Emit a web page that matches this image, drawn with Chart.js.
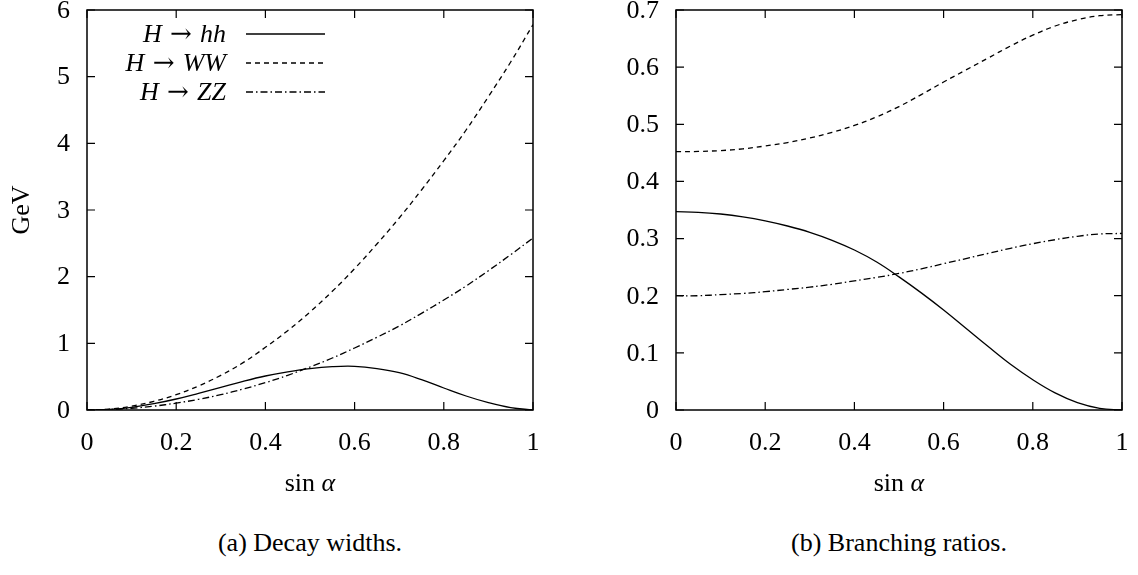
<html>
<head>
<meta charset="utf-8">
<title>Decay widths and branching ratios</title>
<script src="https://cdn.jsdelivr.net/npm/chart.js@4.4.1/dist/chart.umd.min.js"></script>
<style>
body { margin: 0; background: white; }
#page { position: relative; width: 1138px; height: 575px; background: white; }
canvas { position: absolute; top: 0; }
.caption {
  position: absolute; top: 528px; width: 400px; text-align: center;
  font-family: "Liberation Serif", "Times New Roman", Tinos, "DejaVu Serif", serif;
  font-size: 26px; line-height: 30px; color: black;
}
</style>
</head>
<body>
<div id="page">
  <canvas id="widths" width="569" height="500" style="left:0px"></canvas>
  <canvas id="ratios" width="569" height="500" style="left:569px"></canvas>
  <div class="caption" style="left:110px">(a) Decay widths.</div>
  <div class="caption" style="left:699px">(b) Branching ratios.</div>
</div>
<script>
// sin(alpha) grid and values
const sinAlpha = [0, 0.05, 0.1, 0.15, 0.2, 0.25, 0.3, 0.35, 0.4, 0.45, 0.5,
                  0.55, 0.6, 0.65, 0.7, 0.75, 0.8, 0.85, 0.9, 0.95, 1];

// (a) decay widths in GeV
const widthHH = [0, 0.01, 0.04, 0.095, 0.165, 0.25, 0.34, 0.43, 0.51, 0.573, 0.622,
                 0.65, 0.655, 0.622, 0.56, 0.455, 0.33, 0.21, 0.11, 0.035, 0];
const widthWW = [0, 0.014, 0.058, 0.13, 0.23, 0.36, 0.52, 0.71, 0.94, 1.19, 1.47,
                 1.78, 2.12, 2.49, 2.88, 3.3, 3.74, 4.2, 4.7, 5.22, 5.78];
const widthZZ = [0, 0.006, 0.026, 0.058, 0.103, 0.16, 0.23, 0.315, 0.41, 0.52, 0.645,
                 0.78, 0.93, 1.09, 1.26, 1.45, 1.65, 1.86, 2.09, 2.33, 2.58];

// (b) branching ratios
const brHH = [0.347, 0.346, 0.343, 0.338, 0.331, 0.322, 0.311, 0.297, 0.28, 0.259, 0.233,
              0.205, 0.175, 0.143, 0.111, 0.08, 0.053, 0.03, 0.013, 0.003, 0];
const brWW = [0.452, 0.4525, 0.454, 0.457, 0.462, 0.468, 0.476, 0.486, 0.498, 0.513, 0.531,
              0.552, 0.574, 0.595, 0.616, 0.637, 0.656, 0.672, 0.683, 0.69, 0.692];
const brZZ = [0.2, 0.2, 0.202, 0.204, 0.207, 0.211, 0.215, 0.22, 0.226, 0.232, 0.239,
              0.247, 0.256, 0.265, 0.274, 0.283, 0.291, 0.298, 0.304, 0.308, 0.309];

const seriesLabels = ['H → hh', 'H → WW', 'H → ZZ'];
const xTicks = [0, 0.2, 0.4, 0.6, 0.8, 1];

const SERIF = '"Liberation Serif", "Times New Roman", Tinos, "DejaVu Serif", serif';
const ARROW_FONT = '"DejaVu Serif", serif';
const FONT_SIZE = 26;
const DASHES = [[], [5, 4], [7, 3, 1.5, 3]];

function points(ys) {
  return sinAlpha.map((x, i) => ({ x: x, y: ys[i] }));
}

function tickText(v) {
  return String(+(+v).toFixed(2));
}

// letters in italic (math style), everything else upright
function mathRuns(text) {
  return text.match(/[A-Za-z\u03b1-\u03c9]+|[^A-Za-z\u03b1-\u03c9]+/g)
    .map(s => [s, /[A-Za-z\u03b1-\u03c9]/.test(s)]);
}

function runFont(r) {
  if (r[0].indexOf('→') >= 0) return FONT_SIZE + 'px ' + ARROW_FONT;
  return (r[1] ? 'italic ' : '') + FONT_SIZE + 'px ' + SERIF;
}

function drawRuns(ctx, runs, x, y, align) {
  let total = 0;
  runs.forEach(r => {
    ctx.font = runFont(r);
    total += ctx.measureText(r[0]).width;
  });
  let cx = align === 'right' ? x - total : align === 'center' ? x - total / 2 : x;
  ctx.textAlign = 'left';
  ctx.textBaseline = 'middle';
  runs.forEach(r => {
    ctx.font = runFont(r);
    ctx.fillText(r[0], cx, y);
    cx += ctx.measureText(r[0]).width;
  });
}

// frame with inward ticks on all sides, tick labels, titles, legend
const gnuplotFrame = {
  id: 'gnuplotFrame',
  afterDatasetsDraw(chart, args, opts) {
    const ctx = chart.ctx;
    const a = chart.chartArea;
    const x = chart.scales.x, y = chart.scales.y;
    ctx.save();
    ctx.strokeStyle = '#000';
    ctx.fillStyle = '#000';
    ctx.lineWidth = 1.2;
    ctx.setLineDash([]);
    ctx.beginPath();
    x.ticks.forEach(t => {
      const px = x.getPixelForValue(t.value);
      ctx.moveTo(px, a.bottom); ctx.lineTo(px, a.bottom - 8);
      ctx.moveTo(px, a.top); ctx.lineTo(px, a.top + 8);
    });
    y.ticks.forEach(t => {
      const py = y.getPixelForValue(t.value);
      ctx.moveTo(a.left, py); ctx.lineTo(a.left + 8, py);
      ctx.moveTo(a.right, py); ctx.lineTo(a.right - 8, py);
    });
    ctx.stroke();
    ctx.lineWidth = 1.5;
    ctx.strokeRect(a.left, a.top, a.right - a.left, a.bottom - a.top);

    ctx.font = FONT_SIZE + 'px ' + SERIF;
    ctx.textBaseline = 'middle';
    ctx.textAlign = 'center';
    x.ticks.forEach(t => ctx.fillText(tickText(t.value), x.getPixelForValue(t.value), a.bottom + 33));
    ctx.textAlign = 'right';
    y.ticks.forEach(t => ctx.fillText(tickText(t.value), a.left - 17, y.getPixelForValue(t.value) + 1));

    drawRuns(ctx, [['sin ', false], ['α', true]], (a.left + a.right) / 2, a.bottom + 74, 'center');

    if (opts.yTitle) {
      ctx.save();
      ctx.translate(22, (a.top + a.bottom) / 2);
      ctx.rotate(-Math.PI / 2);
      ctx.font = FONT_SIZE + 'px ' + SERIF;
      ctx.textAlign = 'center';
      ctx.fillText(opts.yTitle, 0, 0);
      ctx.restore();
    }

    if (opts.legend) {
      chart.data.datasets.forEach((ds, i) => {
        const ly = a.top + 24 + 29 * i;
        drawRuns(ctx, mathRuns(ds.label), a.left + 139, ly + 1, 'right');
        ctx.lineWidth = ds.borderWidth;
        ctx.setLineDash(ds.borderDash);
        ctx.beginPath();
        ctx.moveTo(a.left + 159, ly);
        ctx.lineTo(a.left + 238, ly);
        ctx.stroke();
      });
      ctx.setLineDash([]);
    }
    ctx.restore();
  }
};

function makeChart(id, series, yMax, yStep, axisWidth, padRight, extra) {
  return new Chart(document.getElementById(id), {
    type: 'line',
    data: {
      datasets: series.map((ys, i) => ({
        label: seriesLabels[i],
        data: points(ys),
        borderColor: '#000',
        borderWidth: 1.3,
        borderDash: DASHES[i],
        pointRadius: 0,
        fill: false,
        tension: 0.4
      }))
    },
    options: {
      responsive: false,
      animation: false,
      events: [],
      layout: { padding: { top: 10, right: padRight, left: 0, bottom: 0 } },
      plugins: {
        legend: { display: false },
        tooltip: { enabled: false },
        gnuplotFrame: extra
      },
      scales: {
        x: {
          type: 'linear', min: 0, max: 1,
          afterBuildTicks: s => { s.ticks = xTicks.map(v => ({ value: v })); },
          ticks: { display: false },
          grid: { display: false },
          border: { display: false },
          afterFit: s => { s.height = 90; }
        },
        y: {
          min: 0, max: yMax,
          ticks: { display: false, stepSize: yStep },
          grid: { display: false },
          border: { display: false },
          afterFit: s => { s.width = axisWidth; }
        }
      }
    },
    plugins: [gnuplotFrame]
  });
}

const chartA = makeChart('widths', [widthHH, widthWW, widthZZ], 6, 1, 87, 36,
  { yTitle: 'GeV', legend: true });
const chartB = makeChart('ratios', [brHH, brWW, brZZ], 0.7, 0.1, 107, 16,
  { legend: false });
</script>
</body>
</html>
